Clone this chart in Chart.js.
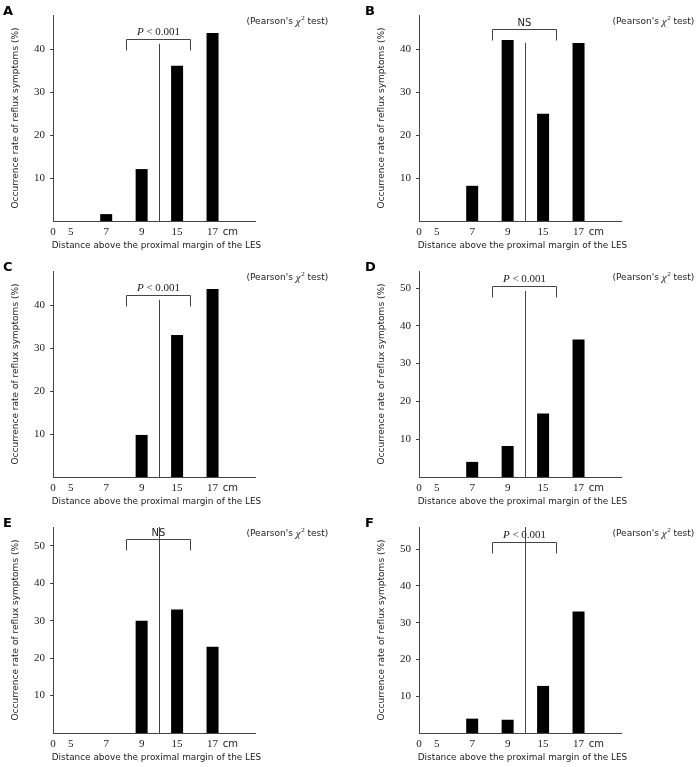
<!DOCTYPE html>
<html>
<head>
<meta charset="utf-8">
<script src="https://cdn.jsdelivr.net/npm/chart.js@4.4.1/dist/chart.umd.min.js"></script>
<style>
  html, body { margin: 0; padding: 0; background: #fff; overflow: hidden; }
  .panel { position: absolute; width: 348px; height: 256px; }
</style>
</head>
<body>
<div class="panel" style="left:0;top:0"><canvas id="panel-0" width="348" height="256"></canvas></div>
<div class="panel" style="left:348px;top:0"><canvas id="panel-1" width="348" height="256"></canvas></div>
<div class="panel" style="left:0;top:256px"><canvas id="panel-2" width="348" height="256"></canvas></div>
<div class="panel" style="left:348px;top:256px"><canvas id="panel-3" width="348" height="256"></canvas></div>
<div class="panel" style="left:0;top:512px"><canvas id="panel-4" width="348" height="256"></canvas></div>
<div class="panel" style="left:348px;top:512px"><canvas id="panel-5" width="348" height="256"></canvas></div>
<script>
'use strict';

// distance above the LES (cm)
var categories = ['0', '5', '7', '9', '15', '17'];
// x tick labels, blanks keep the gaps of the original axis
var tickLabels = ['0', '5', '', '7', '', '9', '', '15', '', '17', 'cm', ''];

// occurrence rate of reflux symptoms (%), one list per panel
var ratesA = [0, 0, 1.6, 12.1, 36.2, 43.8];
var ratesB = [0, 0, 8.2, 42.2, 25.0, 41.5];
var ratesC = [0, 0, 0, 9.8, 33.1, 43.8];
var ratesD = [0, 0, 4.0, 8.2, 16.8, 36.4];
var ratesE = [0, 0, 0, 30.0, 33.0, 23.0];
var ratesF = [0, 0, 3.9, 3.6, 12.8, 33.0];

var panelLetters = ['A', 'B', 'C', 'D', 'E', 'F'];
var testResults = ['P < 0.001', 'NS', 'P < 0.001', 'P < 0.001', 'NS', 'P < 0.001'];
var yMax = [48, 48, 48, 54.5, 55, 56];

// annotation heights, in % units
var dividerTop = [41.3, 41.5, 41.3, 49.2, 55, 56];
var bracketLevel = [42.5, 44.8, 42.5, 50.4, 51.9, 52.0];

var xTitle = 'Distance above the proximal margin of the LES';
var yTitle = 'Occurrence rate of reflux symptoms (%)';

var allRates = [ratesA, ratesB, ratesC, ratesD, ratesE, ratesF];

var sans = 'DejaVu Sans';
var serif = 'Liberation Serif';
var lineColor = '#444';
var textColor = '#222';

var annotate = {
    id: 'annotate',
    afterDraw: function (chart, args, opts) {
        var ctx = chart.ctx;
        var xs = chart.scales.x;
        var ys = chart.scales.y;
        var area = chart.chartArea;
        var i = opts.panel;

        ctx.save();
        ctx.strokeStyle = lineColor;
        ctx.lineWidth = 1;

        // x axis runs a bit past the last label
        var yAxis = Math.round(area.bottom) + 0.5;
        ctx.beginPath();
        ctx.moveTo(area.right, yAxis);
        ctx.lineTo(xs.getPixelForValue(11.45), yAxis);
        ctx.stroke();

        // divider between 9 and 15 cm
        var xd = Math.round((xs.getPixelForValue('9') + xs.getPixelForValue('15')) / 2) + 0.5;
        ctx.beginPath();
        ctx.moveTo(xd, ys.getPixelForValue(0));
        ctx.lineTo(xd, ys.getPixelForValue(dividerTop[i]));
        ctx.stroke();

        // bracket
        var xl = Math.round(xs.getPixelForValue(4.1)) + 0.5;
        var xr = Math.round(xs.getPixelForValue(7.75)) + 0.5;
        var yb = Math.round(ys.getPixelForValue(bracketLevel[i])) + 0.5;
        ctx.beginPath();
        ctx.moveTo(xl, yb + 11);
        ctx.lineTo(xl, yb);
        ctx.lineTo(xr, yb);
        ctx.lineTo(xr, yb + 11);
        ctx.stroke();

        ctx.fillStyle = textColor;
        ctx.textBaseline = 'alphabetic';
        var cx = (xl + xr) / 2;
        if (testResults[i] === 'NS') {
            ctx.font = '10px "' + sans + '"';
            ctx.textAlign = 'center';
            ctx.fillText('NS', cx, yb - 4);
        } else {
            var rest = testResults[i].slice(1);
            ctx.textAlign = 'left';
            ctx.font = 'italic 11px "' + serif + '"';
            var wP = ctx.measureText('P').width;
            ctx.font = '11px "' + serif + '"';
            var wRest = ctx.measureText(rest).width;
            var x0 = cx - (wP + wRest) / 2;
            ctx.font = 'italic 11px "' + serif + '"';
            ctx.fillText('P', x0, yb - 5);
            ctx.font = '11px "' + serif + '"';
            ctx.fillText(rest, x0 + wP, yb - 5);
        }

        // (Pearson's chi2 test)
        ctx.textAlign = 'left';
        var px = area.left + 193.5;
        var py = area.top + 9;
        ctx.font = '9px "' + sans + '"';
        ctx.fillText("(Pearson's ", px, py);
        px += ctx.measureText("(Pearson's ").width;
        ctx.font = 'italic 11px "' + serif + '"';
        ctx.fillText('\u03C7', px, py + 1);
        px += ctx.measureText('\u03C7').width + 0.5;
        ctx.font = '7px "' + serif + '"';
        ctx.fillText('2', px, py - 4);
        px += ctx.measureText('2').width;
        ctx.font = '9px "' + sans + '"';
        ctx.fillText(' test)', px, py);

        // x axis title, wider than the plot so drawn here
        ctx.textAlign = 'center';
        ctx.textBaseline = 'middle';
        ctx.font = '8.9px "' + sans + '"';
        ctx.fillText(xTitle, area.left + 103.5, area.bottom + 24.3);

        // panel letter
        ctx.textAlign = 'left';
        ctx.textBaseline = 'alphabetic';
        ctx.font = 'bold 13px "' + sans + '"';
        ctx.fillStyle = '#000';
        ctx.fillText(panelLetters[i], opts.letterX, area.top);
        ctx.restore();
    }
};

function makePanel(i) {
    var col = i % 2;
    var padLeft = col === 0 ? 0 : 18;
    var axisWidth = 53;
    var plotWidth = 195;
    var rates = allRates[i];

    var ctx = document.getElementById('panel-' + i).getContext('2d');
    return new Chart(ctx, {
        type: 'bar',
        data: {
            labels: tickLabels,
            datasets: [{
                data: categories.map(function (c, k) { return {x: c, y: rates[k]}; }),
                backgroundColor: '#000',
                barThickness: 12,
                inflateAmount: 0
            }]
        },
        options: {
            responsive: false,
            animation: false,
            layout: {
                padding: {left: padLeft, top: 15, right: 348 - padLeft - axisWidth - plotWidth, bottom: 0}
            },
            plugins: {
                legend: {display: false},
                tooltip: {enabled: false},
                annotate: {panel: i, letterX: col === 0 ? 3 : 17}
            },
            scales: {
                x: {
                    type: 'category',
                    offset: false,
                    grid: {display: false, drawTicks: false},
                    border: {color: lineColor},
                    ticks: {
                        autoSkip: false,
                        maxRotation: 0,
                        padding: 5,
                        color: textColor,
                        font: function (c) {
                            if (c.tick && c.tick.label === 'cm') {
                                return {family: sans, size: 10};
                            }
                            return {family: serif, size: 11};
                        }
                    },
                    afterFit: function (s) { s.height = 35; }
                },
                y: {
                    min: 0,
                    max: yMax[i],
                    ticks: {
                        stepSize: 10,
                        padding: 5,
                        color: textColor,
                        font: {family: serif, size: 11}
                    },
                    afterBuildTicks: function (s) {
                        s.ticks = s.ticks.filter(function (t) { return t.value > 0 && t.value % 10 === 0; });
                    },
                    grid: {drawOnChartArea: false, tickLength: 3, color: lineColor},
                    border: {color: lineColor},
                    title: {
                        display: true,
                        text: yTitle,
                        color: textColor,
                        font: {family: sans, size: 9},
                        padding: {top: 10.6, bottom: 0}
                    },
                    afterFit: function (s) { s.width = axisWidth; }
                }
            }
        },
        plugins: [annotate]
    });
}

for (var i = 0; i < 6; i++) {
    makePanel(i);
}
</script>
</body>
</html>
